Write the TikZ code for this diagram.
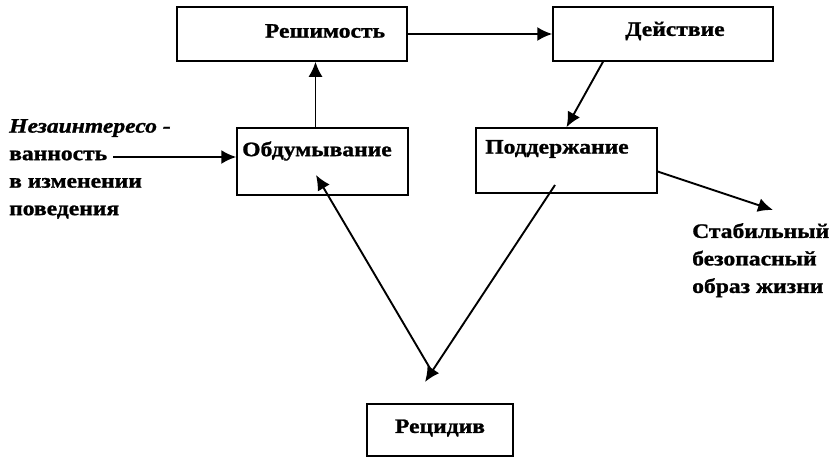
\documentclass[tikz,border=0pt]{standalone}
\usepackage{fontspec}
\setmainfont{Liberation Serif}
\newfontfamily\diag[FakeStretch=1.15,FakeBold=1.2]{Liberation Serif}
\usetikzlibrary{arrows.meta}
\begin{document}
\begin{tikzpicture}[x=1pt,y=-1pt,
  box/.style={draw,line width=1.5pt,inner sep=0pt,minimum width=#1},
  lbl/.style={font=\diag\fontsize{20.5}{27.5}\selectfont\bfseries,inner sep=0pt},
  arr/.style={line width=1.9pt,-{Latex[length=15pt,width=14pt]}}]
\useasboundingbox[fill=white] (0,0) rectangle (837,458);
% boxes
\node[box=230pt,minimum height=54pt] (resh) at (292,34) {};
\node[box=220pt,minimum height=54pt] (deys) at (663,34) {};
\node[box=181pt,minimum height=65pt] (podd) at (566.5,160.5) {};
\node[box=171pt,minimum height=67pt] (obd) at (322.5,161.5) {};
\node[box=146pt,minimum height=52pt] (rec) at (440,430) {};
% labels
\node[lbl] (reshT) at (325,31) {Решимость};
\node[lbl] (deysT) at (675,31) {Действие};
\node[lbl] (poddT) at (557,149) {Поддержание};
\node[lbl] (obdT) at (317,151) {Обдумывание};
\node[lbl] (recT) at (440,428) {Рецидив};
\node[lbl,anchor=north west,align=left] (nez) at (9,119)
  {\itshape Незаинтересо -\\ванность\\в изменении\\поведения};
\node[lbl,anchor=north west,align=left] (stab) at (692,223)
  {Стабильный\\безопасный\\образ жизни};
% free ends
\coordinate (nezEnd) at (113,157);
\coordinate (stabTip) at (773,210);
\coordinate (rA) at (431,370);
\coordinate (rB) at (425,382);
% connectors
\draw[arr] ([xshift=-7pt]obd.north) -- ([xshift=-7pt]obd.north |- resh.south);
\draw[arr] (resh.east) -- (deys.west);
\draw[arr] ([xshift=-60pt]deys.south) -- (podd.north);
\draw[arr] ([yshift=-11pt]podd.east) -- (stabTip);
\draw[arr] (nezEnd) -- (nezEnd -| obd.west);
\draw[arr] ([xshift=-11.5pt,yshift=-24.5pt]podd.center) -- (rB);
\draw[arr] (rA) -- ([xshift=-6.5pt,yshift=-13.5pt]obd.center);
\end{tikzpicture}
\end{document}
